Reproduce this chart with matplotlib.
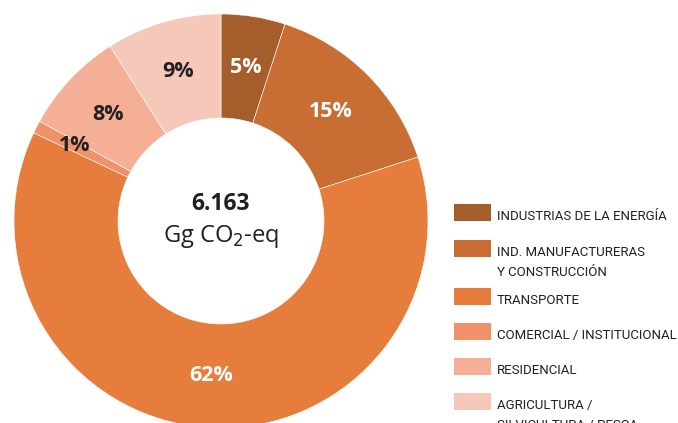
import matplotlib.pyplot as plt
from matplotlib.patches import Rectangle

# data
sectors = [
    "INDUSTRIAS DE LA ENERGÍA",
    "IND. MANUFACTURERAS\nY CONSTRUCCIÓN",
    "TRANSPORTE",
    "COMERCIAL / INSTITUCIONAL",
    "RESIDENCIAL",
    "AGRICULTURA /\nSILVICULTURA / PESCA",
]
shares = [5, 15, 62, 1, 8, 9]
colors = ["#A65D2C", "#C86E34", "#E67D3C", "#F0916A", "#F5AF96", "#F6C8B9"]
label_colors = ["white", "white", "white", "#231F20", "#231F20", "#231F20"]
total_text = "6.163"
unit_text = "Gg CO$_2$-eq"

W, H = 678, 423
fig = plt.figure(figsize=(W / 100, H / 100), dpi=100)
ax = fig.add_axes([0, 0, 1, 1])

cx, cy = 221, H - 221
R = 207
wedges, _, pcts = ax.pie(
    shares, colors=colors, startangle=90, counterclock=False,
    center=(cx, cy), radius=R, autopct="%d%%", pctdistance=0.75,
    wedgeprops=dict(width=R - 103, edgecolor="white", linewidth=0.4),
)
for t, c in zip(pcts, label_colors):
    t.set_color(c)
    t.set_fontsize(15.5)
    t.set_fontweight("bold")
    t.set_family("Open Sans")
# small slice label sits a little further out
pcts[3].set_position((75, H - 145))

ax.set_xlim(0, W)
ax.set_ylim(0, H)
ax.set_aspect("equal")
ax.axis("off")

ax.text(cx, H - 204, total_text, ha="center", va="center", fontsize=16.5,
        fontweight="bold", family="Open Sans", color="#231F20")
ax.text(cx, H - 236, unit_text, ha="center", va="center", fontsize=17,
        family="Open Sans", color="#231F20")

# legend: no condensed face installed, so pick the family that fits the
# widest entry into the available width at the largest size
renderer = fig.canvas.get_renderer()
widest = "COMERCIAL / INSTITUCIONAL"
best = None
for fam in ["Roboto", "Lato", "Liberation Sans", "Open Sans", "DejaVu Sans"]:
    probe = fig.text(0, 0, widest, fontsize=10, family=fam)
    w = probe.get_window_extent(renderer).width
    probe.remove()
    size = 10 * 179 / w
    if best is None or size > best[1]:
        best = (fam, size)
leg_family, leg_size = best

tops = [204, 240, 288, 323, 358, 393]
for name, col, top in zip(sectors, colors, tops):
    ax.add_patch(Rectangle((454, H - top - 17), 37, 17, color=col, lw=0))
    for i, line in enumerate(name.split("\n")):
        ax.text(497, H - top - 16 - 20 * i, line, ha="left", va="baseline",
                fontsize=leg_size, family=leg_family, color="#231F20")

fig.savefig("out.png", dpi=100)
